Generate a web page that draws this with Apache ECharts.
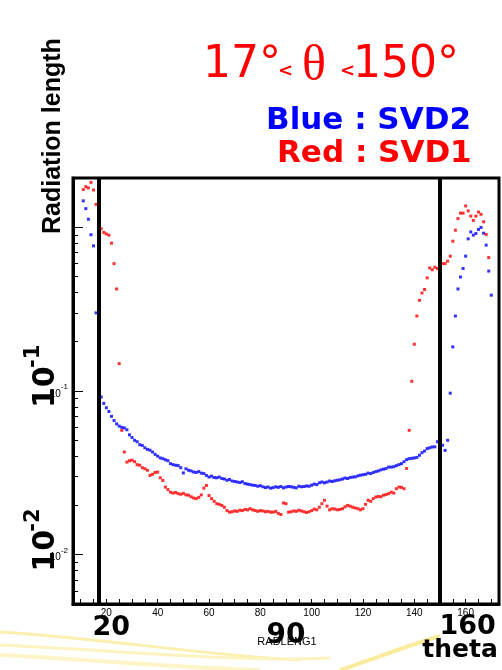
<!DOCTYPE html>
<html>
<head>
<meta charset="utf-8">
<script src="https://cdn.jsdelivr.net/npm/echarts@6/dist/echarts.min.js"></script>
<style>
  html, body { margin: 0; padding: 0; background: #fff; }
  #chart { width: 502px; height: 670px; }
</style>
</head>
<body>
<div id="chart"></div>
<script>
// Polar angle (degrees) of each histogram bin
const theta = [
  11, 12, 13, 14, 15, 16, 17, 18, 19, 20,
  21, 22, 23, 24, 25, 26, 27, 28, 29, 30,
  31, 32, 33, 34, 35, 36, 37, 38, 39, 40,
  41, 42, 43, 44, 45, 46, 47, 48, 49, 50,
  51, 52, 53, 54, 55, 56, 57, 58, 59, 60,
  61, 62, 63, 64, 65, 66, 67, 68, 69, 70,
  71, 72, 73, 74, 75, 76, 77, 78, 79, 80,
  81, 82, 83, 84, 85, 86, 87, 88, 89, 90,
  91, 92, 93, 94, 95, 96, 97, 98, 99, 100,
  101, 102, 103, 104, 105, 106, 107, 108, 109, 110,
  111, 112, 113, 114, 115, 116, 117, 118, 119, 120,
  121, 122, 123, 124, 125, 126, 127, 128, 129, 130,
  131, 132, 133, 134, 135, 136, 137, 138, 139, 140,
  141, 142, 143, 144, 145, 146, 147, 148, 149, 150,
  151, 152, 153, 154, 155, 156, 157, 158, 159, 160,
  161, 162, 163, 164, 165, 166, 167, 168, 169, 170
];

// Radiation length, SVD2 (blue)
const svd2 = [
  1.45, 1.30, 1.12, 0.90, 0.77, 0.30, 0.119, 0.092, 0.084, 0.079,
  0.075, 0.070, 0.066, 0.063, 0.061, 0.060, 0.0595, 0.058, 0.054, 0.052,
  0.050, 0.049, 0.047, 0.0465, 0.045, 0.044, 0.0435, 0.0424, 0.041, 0.040,
  0.039, 0.0386, 0.038, 0.0375, 0.036, 0.0355, 0.0352, 0.035, 0.034, 0.0316,
  0.0335, 0.0328, 0.0325, 0.032, 0.0318, 0.0322, 0.0315, 0.0313, 0.0305, 0.0298,
  0.0302, 0.0296, 0.0295, 0.0298, 0.0292, 0.029, 0.0285, 0.0288, 0.0282, 0.028,
  0.0278, 0.0276, 0.0279, 0.0272, 0.027, 0.0268, 0.0266, 0.0265, 0.0262, 0.0264,
  0.026, 0.0257, 0.0259, 0.0255, 0.0257, 0.026, 0.0258, 0.0261, 0.0256, 0.0259,
  0.0261, 0.026, 0.0258, 0.0256, 0.0262, 0.026, 0.0261, 0.0263, 0.0262, 0.0266,
  0.027, 0.0268, 0.0275, 0.0278, 0.0275, 0.0278, 0.0282, 0.028, 0.0283, 0.0285,
  0.0287, 0.029, 0.0294, 0.0292, 0.0296, 0.0298, 0.0299, 0.0303, 0.0306, 0.0308,
  0.031, 0.0315, 0.0313, 0.0318, 0.0322, 0.0325, 0.033, 0.0333, 0.0336, 0.0343,
  0.0343, 0.0345, 0.035, 0.0355, 0.036, 0.037, 0.0381, 0.0386, 0.0388, 0.039,
  0.0393, 0.0405, 0.042, 0.043, 0.0445, 0.045, 0.0455, 0.0456, 0.049, 0.0487,
  0.0466, 0.0434, 0.050, 0.097, 0.186, 0.287, 0.42, 0.497, 0.56, 0.666,
  0.85, 0.937, 0.895, 0.916, 0.97, 0.998, 0.92, 0.778, 0.54, 0.385
];

// Radiation length, SVD1 (red)
const svd1 = [
  1.70, 1.77, 1.74, 1.88, 1.69, 1.38, 1.19, 0.98, 0.93, 0.91,
  0.895, 0.80, 0.60, 0.42, 0.147, 0.0575, 0.0424, 0.0368, 0.0375, 0.0378,
  0.037, 0.0355, 0.0352, 0.034, 0.0335, 0.0328, 0.0305, 0.031, 0.0318, 0.032,
  0.0295, 0.0284, 0.0259, 0.025, 0.0241, 0.0238, 0.024, 0.0236, 0.0234, 0.0237,
  0.0232, 0.0231, 0.0226, 0.0222, 0.022, 0.0224, 0.0232, 0.0255, 0.0265, 0.023,
  0.022, 0.0212, 0.0205, 0.0203, 0.020, 0.0195, 0.0186, 0.0182, 0.0183, 0.0185,
  0.0184, 0.0187, 0.0186, 0.0189, 0.0188, 0.0191, 0.0188, 0.0186, 0.0184, 0.0186,
  0.0185, 0.0183, 0.0184, 0.0182, 0.0182, 0.0184, 0.0179, 0.0176, 0.0207, 0.0205,
  0.0182, 0.0183, 0.0185, 0.0184, 0.0187, 0.0185, 0.0183, 0.0181, 0.0183, 0.0186,
  0.019, 0.0188, 0.0195, 0.0205, 0.0215, 0.0198, 0.0188, 0.0191, 0.019, 0.0188,
  0.0189, 0.0191, 0.0196, 0.020, 0.0198, 0.0195, 0.0193, 0.0191, 0.0188, 0.0191,
  0.0203, 0.0215, 0.0212, 0.022, 0.0225, 0.0227, 0.0226, 0.0231, 0.0233, 0.0236,
  0.0241, 0.0238, 0.0253, 0.0259, 0.0258, 0.0253, 0.0336, 0.0575, 0.1146, 0.193,
  0.287, 0.358, 0.397, 0.417, 0.491, 0.565, 0.55, 0.57, 0.56, 0.594,
  0.60, 0.60, 0.621, 0.666, 0.822, 0.96, 1.13, 1.22, 1.22, 1.35,
  1.26, 1.17, 1.10, 1.17, 1.24, 1.20, 1.08, 0.904, 0.653, null
];

// Acceptance limits drawn as thick vertical bars
const thetaCuts = [17, 150];

// Axis ranges and tick positions
const xRange = [7, 173];
const yRange = [0.005, 2];
const xTickValues = [10, 15, 20, 25, 30, 35, 40, 45, 50, 55, 60, 65, 70, 75, 80, 85, 90,
  95, 100, 105, 110, 115, 120, 125, 130, 135, 140, 145, 150, 155, 160, 165, 170];
const xLabelValues = [20, 40, 60, 80, 100, 120, 140, 160];
const yMinorTicks = [0.006, 0.007, 0.008, 0.009, 0.02, 0.03, 0.04, 0.05, 0.06, 0.07, 0.08, 0.09,
  0.2, 0.3, 0.4, 0.5, 0.6, 0.7, 0.8, 0.9];
const yMajorTicks = [0.01, 0.1, 1];
const yMajorExp = ['-2', '-1', '0'];

const chart = echarts.init(document.getElementById('chart'), null, { renderer: 'canvas' });

function pairs(xs, ys) {
  const out = [];
  for (let i = 0; i < xs.length; i++) {
    if (ys[i] != null) out.push([xs[i], ys[i]]);
  }
  return out;
}

const GRID = { left: 73, right: 3, top: 178, bottom: 66 };

const option = {
  animation: false,
  backgroundColor: '#ffffff',
  grid: {
    left: GRID.left, right: GRID.right, top: GRID.top, bottom: GRID.bottom,
    show: true, borderColor: '#000', borderWidth: 3, backgroundColor: 'transparent',
    outerBoundsMode: 'none'
  },
  xAxis: [{
    type: 'value', min: xRange[0], max: xRange[1],
    axisLine: { show: true, onZero: false, lineStyle: { color: '#000', width: 3 } },
    axisTick: { show: true, inside: true, length: 5, customValues: xTickValues, lineStyle: { color: '#000', width: 1 } },
    axisLabel: {
      show: true, customValues: xLabelValues, margin: 4,
      fontFamily: 'Liberation Sans', fontSize: 10, color: '#000'
    },
    splitLine: { show: false }
  }],
  yAxis: [{
    type: 'log', logBase: 10, min: yRange[0], max: yRange[1],
    axisLine: { show: true, lineStyle: { color: '#000', width: 3 } },
    axisTick: { show: true, inside: true, length: 5, customValues: yMinorTicks, lineStyle: { color: '#000', width: 1 } },
    axisLabel: { show: false },
    splitLine: { show: false }
  }, {
    type: 'log', logBase: 10, min: yRange[0], max: yRange[1], position: 'left', offset: 0,
    axisLine: { show: false },
    axisTick: { show: true, inside: true, length: 10, customValues: yMajorTicks, lineStyle: { color: '#000', width: 1 } },
    axisLabel: {
      show: true, customValues: [0.01, 0.1], margin: 5,
      formatter: function (v) {
        const e = Math.round(Math.log10(v));
        return '{b|10}{s|' + e + '}';
      },
      rich: {
        b: { fontFamily: 'Liberation Sans', fontSize: 10, color: '#000', lineHeight: 16, verticalAlign: 'bottom' },
        s: { fontFamily: 'Liberation Sans', fontSize: 8, color: '#000', lineHeight: 16, verticalAlign: 'top' }
      }
    },
    splitLine: { show: false }
  }],
  series: [{
    name: 'SVD2',
    type: 'scatter',
    symbol: 'rect',
    symbolSize: 3,
    itemStyle: { color: '#0000ff' },
    data: pairs(theta, svd2),
    z: 3
  }, {
    name: 'SVD1',
    type: 'scatter',
    symbol: 'rect',
    symbolSize: 3,
    itemStyle: { color: '#ff0000' },
    data: pairs(theta, svd1),
    z: 3,
    markLine: {
      silent: true,
      symbol: 'none',
      label: { show: false },
      lineStyle: { color: '#000', width: 4, type: 'solid' },
      data: thetaCuts.map(function (t) { return { xAxis: t }; }),
      z: 5
    }
  }]
};

chart.setOption(option);

// Annotation texts (titles, big decade labels, theta markers)
function decadeLabel(v, exp) {
  const y = chart.convertToPixel({ yAxisIndex: 0 }, v);
  return {
    type: 'group',
    x: 61, y: y + 17,
    rotation: Math.PI / 2,
    children: [{
      type: 'text', x: 0, y: 0,
      style: { text: '10', font: 'bold 30px "DejaVu Sans"', fill: '#000', textAlign: 'left', textVerticalAlign: 'bottom' }
    }, {
      type: 'text', x: 40, y: -17,
      style: { text: exp, font: 'bold 21px "DejaVu Sans"', fill: '#000', textAlign: 'left', textVerticalAlign: 'bottom' }
    }]
  };
}

const redTxt = '#ff0000';
const blueTxt = '#0000ff';

const graphics = [
  // decorative yellow swooshes along the bottom edge
  { type: 'bezierCurve', silent: true, z: -1,
    shape: { x1: 0, y1: 632, x2: 300, y2: 660, cpx1: 120, cpy1: 640, cpx2: 200, cpy2: 655 },
    style: { stroke: '#fbf0b0', lineWidth: 3, fill: null } },
  { type: 'bezierCurve', silent: true, z: -1,
    shape: { x1: 0, y1: 645, x2: 330, y2: 658, cpx1: 140, cpy1: 652, cpx2: 240, cpy2: 662 },
    style: { stroke: '#fcf3c0', lineWidth: 3, fill: null } },
  { type: 'bezierCurve', silent: true, z: -1,
    shape: { x1: 0, y1: 655, x2: 260, y2: 670, cpx1: 100, cpy1: 660, cpx2: 180, cpy2: 668 },
    style: { stroke: '#fdf5c8', lineWidth: 4, fill: null } },
  { type: 'bezierCurve', silent: true, z: -1,
    shape: { x1: 340, y1: 670, x2: 440, y2: 636, cpx1: 370, cpy1: 660, cpx2: 410, cpy2: 645 },
    style: { stroke: '#faec9c', lineWidth: 4, fill: null } },

  // y-axis title
  { type: 'text', x: 66, y: 234, rotation: Math.PI / 2,
    style: { text: 'Radiation length', font: 'bold 25px "Liberation Sans"', fill: '#000', textAlign: 'left', textVerticalAlign: 'bottom' } },

  // angular range
  { type: 'text', x: 203, y: 88,
    style: { text: '17°', font: '44px "DejaVu Sans"', fill: redTxt, textAlign: 'left', textVerticalAlign: 'bottom' } },
  { type: 'text', x: 278, y: 80,
    style: { text: '<', font: 'bold 18px "DejaVu Sans"', fill: redTxt, textAlign: 'left', textVerticalAlign: 'bottom' } },
  { type: 'text', x: 302, y: 92,
    style: { text: 'θ', font: '50px "Liberation Serif"', fill: redTxt, textAlign: 'left', textVerticalAlign: 'bottom' } },
  { type: 'text', x: 340, y: 80,
    style: { text: '<', font: 'bold 18px "DejaVu Sans"', fill: redTxt, textAlign: 'left', textVerticalAlign: 'bottom' } },
  { type: 'text', x: 353, y: 88,
    style: { text: '150°', font: '44px "DejaVu Sans"', fill: redTxt, textAlign: 'left', textVerticalAlign: 'bottom' } },

  // legend lines
  { type: 'text', x: 266, y: 136,
    style: { text: 'Blue : SVD2', font: 'bold 31px "DejaVu Sans"', fill: blueTxt, textAlign: 'left', textVerticalAlign: 'bottom' } },
  { type: 'text', x: 277, y: 169,
    style: { text: 'Red : SVD1', font: 'bold 31px "DejaVu Sans"', fill: redTxt, textAlign: 'left', textVerticalAlign: 'bottom' } },

  // histogram name under the axis
  { type: 'text', x: 287, y: 642,
    style: { text: 'RADLENG1', font: '11px "Liberation Sans"', fill: '#000', textAlign: 'center', textVerticalAlign: 'middle' } },

  // large angle markers
  { type: 'text', x: chart.convertToPixel({ xAxisIndex: 0 }, 20) + 5, y: 628,
    style: { text: '20', font: 'bold 27px "DejaVu Sans"', fill: '#000', textAlign: 'center', textVerticalAlign: 'middle' } },
  { type: 'text', x: chart.convertToPixel({ xAxisIndex: 0 }, 90), y: 636,
    style: { text: '90', font: 'bold 28px "DejaVu Sans"', fill: '#000', textAlign: 'center', textVerticalAlign: 'middle' } },
  { type: 'text', x: chart.convertToPixel({ xAxisIndex: 0 }, 160) + 2, y: 627,
    style: { text: '160', font: 'bold 27px "DejaVu Sans"', fill: '#000', textAlign: 'center', textVerticalAlign: 'middle' } },
  { type: 'text', x: 460, y: 650,
    style: { text: 'theta', font: 'bold 25px "DejaVu Sans"', fill: '#000', textAlign: 'center', textVerticalAlign: 'middle' } }
];

yMajorTicks.forEach(function (v, i) {
  if (v < 0.05 || v > 0.5) {
    if (v === 0.01) graphics.push(decadeLabel(v, yMajorExp[i]));
  } else {
    graphics.push(decadeLabel(v, yMajorExp[i]));
  }
});

chart.setOption({ graphic: graphics });
</script>
</body>
</html>
